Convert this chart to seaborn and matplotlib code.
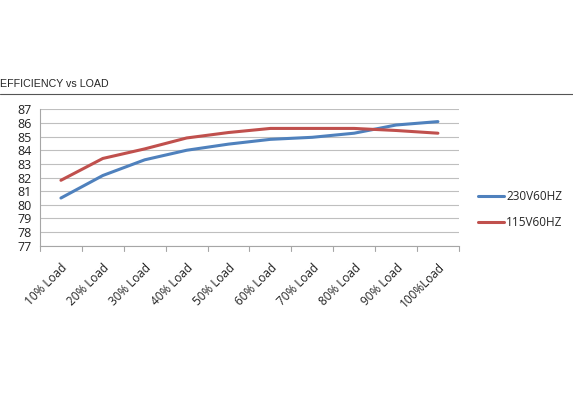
import pandas as pd
import matplotlib
matplotlib.use("Agg")
import matplotlib.pyplot as plt
import seaborn as sns

# data
loads = ["10% Load", "20% Load", "30% Load", "40% Load", "50% Load",
         "60% Load", "70% Load", "80% Load", "90% Load", "100%Load"]
eff_230 = [80.5, 82.15, 83.3, 84.0, 84.45, 84.8, 84.95, 85.25, 85.85, 86.1]
eff_115 = [81.8, 83.4, 84.1, 84.9, 85.3, 85.6, 85.6, 85.6, 85.45, 85.25]

series_names = ["230V60HZ", "115V60HZ"]
colors = ["#4F81BD", "#C0504D"]

# long form table for seaborn
df = pd.DataFrame({
    "load": loads * 2,
    "pos": list(range(len(loads))) * 2,
    "eff": eff_230 + eff_115,
    "series": [series_names[0]] * len(loads) + [series_names[1]] * len(loads),
})

sns.set_style("white")
plt.rcParams["font.family"] = ["Open Sans", "DejaVu Sans"]

fig = plt.figure(figsize=(5.73, 3.99), dpi=100)
ax = fig.add_axes([0.0698, 0.384, 0.731, 0.342])

sns.lineplot(data=df, x="pos", y="eff", hue="series", hue_order=series_names,
             palette=colors, linewidth=2.2, ax=ax, legend=False)

ax.set_xlim(-0.5, len(loads) - 0.5)
ax.set_ylim(77, 87)
ax.set_yticks(range(77, 88))
ax.yaxis.grid(True, color="#BFBFBF", linewidth=0.8)
ax.xaxis.grid(False)

# category labels at centres, tick marks between categories
ax.set_xticks(range(len(loads)))
ax.set_xticklabels(loads, rotation=45, ha="right", va="top", rotation_mode="anchor",
                   fontsize=8.5, color="#222222")
ax.tick_params(axis="x", length=0, pad=11)
for b in [i - 0.5 for i in range(len(loads) + 1)]:
    ax.plot([b, b], [77, 76.6], color="#A6A6A6", lw=0.8, clip_on=False)
ax.tick_params(axis="y", length=4, color="#A6A6A6", labelsize=9, labelcolor="#222222", pad=2)
ax.set_xlabel("")
ax.set_ylabel("")

for s in ["top", "right"]:
    ax.spines[s].set_visible(False)
for s in ["left", "bottom"]:
    ax.spines[s].set_color("#A6A6A6")
    ax.spines[s].set_linewidth(0.8)

# legend on the right
handles = [plt.Line2D([], [], color=c, lw=2.2) for c in colors]
fig.legend(handles, series_names, loc="center left", bbox_to_anchor=(0.834, 0.475),
           frameon=False, fontsize=8.5, handlelength=2.2, handletextpad=0.2,
           labelspacing=1.1, borderpad=0, borderaxespad=0)

# title with rule beneath
fig.text(0.0, 0.778, "EFFICIENCY vs LOAD", fontsize=7.7, family="Liberation Sans",
         ha="left", va="bottom")
fig.add_artist(plt.Line2D([0, 1], [0.764, 0.764], color="#555555", lw=0.8))

fig.savefig("out.png", dpi=100, facecolor="white")
